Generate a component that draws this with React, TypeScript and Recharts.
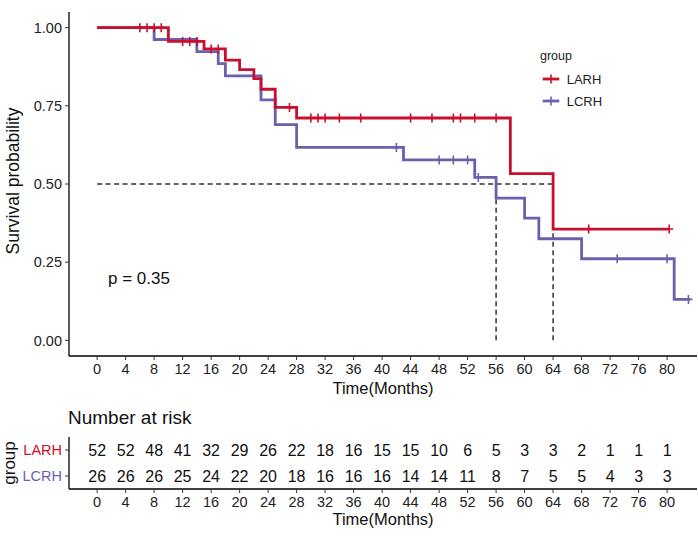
import React from 'react';
import { ComposedChart, ScatterChart, Line, Scatter, XAxis, YAxis, ReferenceLine, Legend } from 'recharts';

const FONT = '"Liberation Sans", Arial, sans-serif';
const RED = '#C8102E';
const PURPLE = '#6C60AE';

const groupNames = ['LARH', 'LCRH'];
const groupColors = [RED, PURPLE];

const xTicks = [0, 4, 8, 12, 16, 20, 24, 28, 32, 36, 40, 44, 48, 52, 56, 60, 64, 68, 72, 76, 80];
const yTicks = [0, 0.25, 0.5, 0.75, 1];

// Kaplan-Meier steps (time where the curve drops, survival after the drop)
const larhTimes = [0, 10, 15, 18, 20, 22, 23, 25, 28, 58, 64, 80.3];
const larhSurv = [1, 0.956, 0.932, 0.896, 0.866, 0.837, 0.803, 0.745, 0.711, 0.533, 0.356, 0.356];
const larhCensor = [6, 7, 8, 9, 12, 13, 14, 16, 17, 27, 30, 31, 32, 34, 37, 44, 47, 50, 51, 53, 56, 69, 80.3];

const lcrhTimes = [0, 8, 14, 17, 18, 23, 25, 28, 43, 53, 56, 60, 62, 68, 81, 83.2];
const lcrhSurv = [1, 0.962, 0.923, 0.885, 0.846, 0.769, 0.69, 0.617, 0.577, 0.521, 0.455, 0.391, 0.325, 0.261, 0.131, 0.131];
const lcrhCensor = [42, 48, 50, 52, 53.5, 73, 80, 83];

const medianTimes = [56, 64];
const pValueText = 'p = 0.35';

// number at risk
const riskTimes = xTicks;
const larhRisk = [52, 52, 48, 41, 32, 29, 26, 22, 18, 16, 15, 15, 10, 6, 5, 3, 3, 2, 1, 1, 1];
const lcrhRisk = [26, 26, 26, 25, 24, 22, 20, 18, 16, 16, 16, 14, 14, 11, 8, 7, 5, 5, 4, 3, 3];

const toSteps = (times: number[], surv: number[]) => times.map((t, i) => ({ t, s: surv[i] }));
const survAt = (times: number[], surv: number[], t: number) => {
  let s = surv[0];
  times.forEach((tt, i) => {
    if (tt <= t) s = surv[i];
  });
  return s;
};
const toCensors = (times: number[], surv: number[], cens: number[]) =>
  cens.map((t) => ({ t, s: survAt(times, surv, t) }));

const larhSteps = toSteps(larhTimes, larhSurv);
const lcrhSteps = toSteps(lcrhTimes, lcrhSurv);
const larhCens = toCensors(larhTimes, larhSurv, larhCensor);
const lcrhCens = toCensors(lcrhTimes, lcrhSurv, lcrhCensor);

const larhRiskRows = riskTimes.map((t, i) => ({ t, row: 2, n: larhRisk[i] }));
const lcrhRiskRows = riskTimes.map((t, i) => ({ t, row: 1, n: lcrhRisk[i] }));

const X_DOMAIN: [number, number] = [-3.95, 84.2];

const PlusMark = ({ cx, cy, color }: any) => (
  <path d={`M${cx - 4},${cy}H${cx + 4}M${cx},${cy - 4.5}V${cy + 4.5}`} stroke={color} strokeWidth={1.6} fill="none" />
);

const LegendBox = () => (
  <div style={{ fontFamily: FONT, color: '#222' }}>
    <div style={{ fontSize: 12.5, lineHeight: '15px', marginBottom: 4 }}>group</div>
    {groupNames.map((name, i) => (
      <div key={name} style={{ display: 'flex', alignItems: 'center', height: 22 }}>
        <svg width={20} height={12}>
          <line x1={2.7} x2={19.3} y1={6} y2={6} stroke={groupColors[i]} strokeWidth={2.8} />
          <PlusMark cx={11} cy={6} color={groupColors[i]} />
        </svg>
        <span style={{ marginLeft: 6.7, fontSize: 13 }}>{name}</span>
      </div>
    ))}
  </div>
);

const GroupTick = ({ x, y, payload }: any) => {
  const idx = payload.value === 2 ? 0 : 1;
  return (
    <text x={x} y={y} textAnchor="end" dominantBaseline="central" fontSize={14.5} fontFamily={FONT} fill={groupColors[idx]}>
      {groupNames[idx]}
    </text>
  );
};

const RiskNumber = (props: any) => (
  <text x={props.cx} y={props.cy} textAnchor="middle" dominantBaseline="central" fontSize={16} fontFamily={FONT} fill="#111">
    {props.payload.n}
  </text>
);

const tickStyle = { fill: '#222', fontSize: 14.5, fontFamily: FONT };
const axisLineStyle = { stroke: '#000', strokeWidth: 1.3 };

export default function App() {
  return (
    <div style={{ position: 'fixed', left: 0, top: 0, width: 698, height: 537, background: '#fff', fontFamily: FONT }}>
      <ComposedChart width={698} height={400} margin={{ top: 12, right: 1, bottom: 0, left: 0 }}>
        <XAxis
          type="number"
          dataKey="t"
          domain={X_DOMAIN}
          ticks={xTicks}
          interval={0}
          allowDataOverflow
          height={44}
          tick={tickStyle}
          tickSize={4}
          tickMargin={4}
          axisLine={axisLineStyle}
          tickLine={{ stroke: '#333' }}
          label={{ value: 'Time(Months)', position: 'insideBottom', offset: 6, fontSize: 16.5, fill: '#111', fontFamily: FONT }}
        />
        <YAxis
          type="number"
          domain={[-0.05, 1.05]}
          ticks={yTicks}
          allowDataOverflow
          width={69}
          tickFormatter={(v: number) => v.toFixed(2)}
          tick={tickStyle}
          tickSize={4}
          tickMargin={3}
          axisLine={axisLineStyle}
          tickLine={{ stroke: '#333' }}
          label={() => (
            <text x={13} y={181} transform="rotate(-90 13 181)" textAnchor="middle" dominantBaseline="central" fontSize={17.5} fontFamily={FONT} fill="#111">
              Survival probability
            </text>
          )}
        />
        <ReferenceLine
          segment={[{ x: 0, y: 0.5 }, { x: Math.max(...medianTimes), y: 0.5 }]}
          stroke="#333"
          strokeWidth={1.5}
          strokeDasharray="5 3.5"
        />
        {medianTimes.map((m) => (
          <ReferenceLine key={m} segment={[{ x: m, y: 0 }, { x: m, y: 0.5 }]} stroke="#333" strokeWidth={1.5} strokeDasharray="5 3.5" />
        ))}
        <Line data={lcrhSteps} dataKey="s" type="stepAfter" stroke={PURPLE} strokeWidth={2.8} dot={false} isAnimationActive={false} />
        <Line data={larhSteps} dataKey="s" type="stepAfter" stroke={RED} strokeWidth={2.8} dot={false} isAnimationActive={false} />
        <Scatter data={lcrhCens} dataKey="s" isAnimationActive={false} shape={(p: any) => <PlusMark cx={p.cx} cy={p.cy} color={PURPLE} />} />
        <Scatter data={larhCens} dataKey="s" isAnimationActive={false} shape={(p: any) => <PlusMark cx={p.cx} cy={p.cy} color={RED} />} />
        <Legend
          layout="vertical"
          align="center"
          verticalAlign="middle"
          wrapperStyle={{ left: 540, top: 49, width: 110, height: 'auto' }}
          content={() => <LegendBox />}
        />
      </ComposedChart>

      <div
        style={{ position: 'absolute', left: 68, top: 407, fontSize: 19, lineHeight: '22px', color: '#111', fontFamily: FONT }}
      >
        Number at risk
      </div>

      <div style={{ position: 'absolute', left: 0, top: 400 }}>
        <ScatterChart width={698} height={137} margin={{ top: 37, right: 1, bottom: 0, left: 0 }}>
          <XAxis
            type="number"
            dataKey="t"
            domain={X_DOMAIN}
            ticks={xTicks}
            interval={0}
            allowDataOverflow
            height={48}
            tick={tickStyle}
            tickSize={4}
            tickMargin={4}
            axisLine={axisLineStyle}
            tickLine={{ stroke: '#333' }}
            label={{ value: 'Time(Months)', position: 'insideBottom', offset: 12, fontSize: 16.5, fill: '#111', fontFamily: FONT }}
          />
          <YAxis
            type="number"
            dataKey="row"
            domain={[0.5, 2.5]}
            ticks={[1, 2]}
            width={69}
            tick={<GroupTick />}
            tickSize={4}
            tickMargin={3}
            axisLine={axisLineStyle}
            tickLine={{ stroke: '#333' }}
            label={() => (
              <text x={9} y={63} transform="rotate(-90 9 63)" textAnchor="middle" dominantBaseline="central" fontSize={17} fontFamily={FONT} fill="#111">
                group
              </text>
            )}
          />
          <Scatter data={larhRiskRows} isAnimationActive={false} shape={RiskNumber} />
          <Scatter data={lcrhRiskRows} isAnimationActive={false} shape={RiskNumber} />
        </ScatterChart>
      </div>

      <div style={{ position: 'absolute', left: 108, top: 268, fontSize: 17, lineHeight: '22px', color: '#111', fontFamily: FONT }}>
        {pValueText}
      </div>
    </div>
  );
}
